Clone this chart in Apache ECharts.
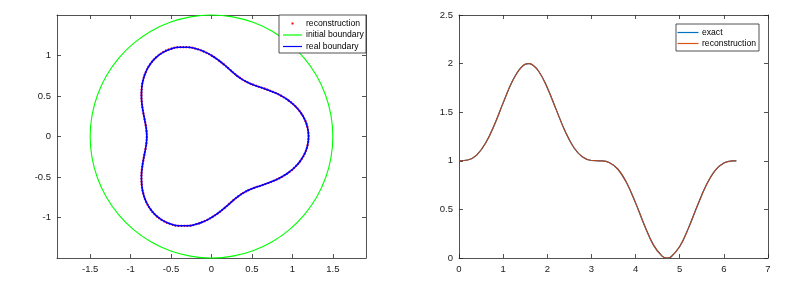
<!DOCTYPE html>
<html>
<head>
<meta charset="utf-8">
<script src="https://cdn.jsdelivr.net/npm/echarts@6/dist/echarts.min.js"></script>
<style>
html,body{margin:0;padding:0;background:#fff;}
#c{width:797px;height:291px;}
</style>
</head>
<body>
<div id="c"></div>
<script>
// ---------- Left panel data (boundary curves) ----------
const boundaryX = [1.2, 1.1886, 1.1554, 1.1025, 1.0337, 0.9532, 0.866, 0.7768, 0.6894, 0.6071, 0.5315, 0.4628, 0.4, 0.341, 0.2828, 0.2222, 0.1563, 0.0827, 0, -0.0917, -0.191, -0.2954, -0.4012, -0.5042, -0.6, -0.6844, -0.7541, -0.8071, -0.8426, -0.8616, -0.866, -0.8594, -0.8457, -0.8293, -0.8142, -0.8037, -0.8,
  -0.8037, -0.8142, -0.8293, -0.8457, -0.8594, -0.866, -0.8616, -0.8426, -0.8071, -0.7541, -0.6844, -0.6, -0.5042, -0.4012, -0.2954, -0.191, -0.0917, 0, 0.0827, 0.1563, 0.2222, 0.2828, 0.341, 0.4, 0.4628, 0.5315, 0.6071, 0.6894, 0.7768, 0.866, 0.9532, 1.0337, 1.1025, 1.1554, 1.1886, 1.2];
const boundaryY = [0, 0.104, 0.2037, 0.2954, 0.3762, 0.4445, 0.5, 0.5439, 0.5785, 0.6071, 0.6333, 0.6609, 0.6928, 0.7312, 0.7769, 0.8293, 0.8863, 0.9446, 1, 1.0478, 1.0833, 1.1025, 1.1025, 1.0814, 1.0392, 0.9775, 0.8987, 0.8071, 0.7071, 0.6033, 0.5, 0.4007, 0.3078, 0.2222, 0.1435, 0.0704, 0,
  -0.0704, -0.1435, -0.2222, -0.3078, -0.4007, -0.5, -0.6033, -0.7071, -0.8071, -0.8987, -0.9775, -1.0392, -1.0814, -1.1025, -1.1025, -1.0833, -1.0478, -1, -0.9446, -0.8863, -0.8293, -0.7769, -0.7312, -0.6928, -0.6609, -0.6333, -0.6071, -0.5785, -0.5439, -0.5, -0.4445, -0.3762, -0.2954, -0.2037, -0.104, 0];
const reconX = boundaryX.slice();
const reconY = boundaryY.slice();
const circleX = [1.5, 1.4772, 1.4095, 1.299, 1.1491, 0.9642, 0.75, 0.513, 0.2605, 0, -0.2605, -0.513, -0.75, -0.9642, -1.1491, -1.299, -1.4095, -1.4772, -1.5, -1.4772, -1.4095, -1.299, -1.1491, -0.9642, -0.75, -0.513, -0.2605, 0, 0.2605, 0.513, 0.75, 0.9642, 1.1491, 1.299, 1.4095, 1.4772, 1.5];
const circleY = [0, 0.2605, 0.513, 0.75, 0.9642, 1.1491, 1.299, 1.4095, 1.4772, 1.5, 1.4772, 1.4095, 1.299, 1.1491, 0.9642, 0.75, 0.513, 0.2605, 0, -0.2605, -0.513, -0.75, -0.9642, -1.1491, -1.299, -1.4095, -1.4772, -1.5, -1.4772, -1.4095, -1.299, -1.1491, -0.9642, -0.75, -0.513, -0.2605, 0];
const leftXTicks = [-1.5, -1, -0.5, 0, 0.5, 1, 1.5];
const leftYTicks = [-1, -0.5, 0, 0.5, 1];

// ---------- Right panel data ----------
const tValues = [0, 0.2, 0.4, 0.6, 0.8, 1.0, 1.2, 1.4, 1.57, 1.6, 1.8, 2.0, 2.2, 2.4, 2.6, 2.8, 3.0, 3.2, 3.4, 3.6, 3.8, 4.0, 4.2, 4.4, 4.6, 4.71, 4.8, 5.0, 5.2, 5.4, 5.6, 5.8, 6.0, 6.2, 6.283];
const exactValues = [1, 1.008, 1.059, 1.18, 1.369, 1.596, 1.81, 1.957, 2.0, 1.999, 1.924, 1.752, 1.529, 1.308, 1.137, 1.038, 1.003, 1.0, 0.983, 0.913, 0.771, 0.567, 0.338, 0.138, 0.019, 0.0, 0.011, 0.118, 0.31, 0.538, 0.748, 0.9, 0.978, 0.999, 1.0];
const reconValues = exactValues.slice();
const rightXTicks = [0, 1, 2, 3, 4, 5, 6, 7];
const rightYTicks = [0, 0.5, 1, 1.5, 2, 2.5];

const zip = (a, b) => a.map((v, i) => [v, b[i]]);

const FONT = 'Liberation Sans';
const AX = '#262626';
const axisCommon = {
  axisLine: { show: true, onZero: false, lineStyle: { color: AX, width: 0.8 } },
  axisTick: { show: true, inside: true, length: 4, lineStyle: { color: AX, width: 0.8 } },
  splitLine: { show: false },
};

const chart = echarts.init(document.getElementById('c'), null, { renderer: 'canvas' });

const lg = { left: 57, top: 15, width: 309, height: 243 };
const rg = { left: 459, top: 15, width: 309, height: 243 };

function ax(gi, min, max, ticks, pos, showLabel) {
  return Object.assign({}, axisCommon, {
    type: 'value', gridIndex: gi, min: min, max: max, position: pos,
    axisTick: Object.assign({}, axisCommon.axisTick, { customValues: ticks }),
    axisLabel: { show: showLabel, customValues: ticks, color: '#1a1a1a', fontFamily: FONT, fontSize: 9.5, margin: 6 },
  });
}

const option = {
  backgroundColor: '#fff',
  animation: false,
  grid: [lg, rg],
  xAxis: [
    ax(0, -1.91, 1.91, leftXTicks, 'bottom', true),
    ax(0, -1.91, 1.91, leftXTicks, 'top', false),
    ax(1, 0, 7, rightXTicks, 'bottom', true),
    ax(1, 0, 7, rightXTicks, 'top', false),
  ],
  yAxis: [
    ax(0, -1.5, 1.5, leftYTicks, 'left', true),
    ax(0, -1.5, 1.5, leftYTicks, 'right', false),
    ax(1, 0, 2.5, rightYTicks, 'left', true),
    ax(1, 0, 2.5, rightYTicks, 'right', false),
  ],
  series: [
    { name: 'initial boundary', type: 'line', xAxisIndex: 0, yAxisIndex: 0, data: zip(circleX, circleY),
      smooth: 0.5, showSymbol: false, symbol: 'none', clip: false, lineStyle: { color: '#00ff00', width: 1.1 } },
    { name: 'reconstruction', type: 'line', xAxisIndex: 0, yAxisIndex: 0, data: zip(reconX, reconY),
      smooth: 0.5, showSymbol: false, symbol: 'none', lineStyle: { color: '#ff0000', width: 2.2, type: [1.5, 1.5] } },
    { name: 'real boundary', type: 'line', xAxisIndex: 0, yAxisIndex: 0, data: zip(boundaryX, boundaryY),
      smooth: 0.5, showSymbol: false, symbol: 'none', lineStyle: { color: '#0000ff', width: 1.6 } },
    { name: 'exact', type: 'line', xAxisIndex: 2, yAxisIndex: 2, data: zip(tValues, exactValues),
      smooth: 0.4, showSymbol: false, symbol: 'none', lineStyle: { color: '#0072BD', width: 1.2 } },
    { name: 'reconstruction ', type: 'line', xAxisIndex: 2, yAxisIndex: 2, data: zip(tValues, reconValues),
      smooth: 0.4, showSymbol: false, symbol: 'none', lineStyle: { color: '#b4461e', width: 1.2 } },
  ],
  graphic: [
    // left legend
    { type: 'rect', shape: { x: 279, y: 15, width: 87, height: 38 }, style: { fill: '#fff', stroke: AX, lineWidth: 0.8 }, z: 100 },
    { type: 'rect', shape: { x: 291.5, y: 22.5, width: 2, height: 2 }, style: { fill: '#ff0000' }, z: 101 },
    { type: 'text', x: 306, y: 23.5, style: { text: 'reconstruction', font: '8.6px "Liberation Sans"', fill: '#000', verticalAlign: 'middle' }, z: 101 },
    { type: 'line', shape: { x1: 283, y1: 35, x2: 302, y2: 35 }, style: { stroke: '#00ff00', lineWidth: 1.2 }, z: 101 },
    { type: 'text', x: 306, y: 35, style: { text: 'initial boundary', font: '8.6px "Liberation Sans"', fill: '#000', verticalAlign: 'middle' }, z: 101 },
    { type: 'line', shape: { x1: 283, y1: 46.5, x2: 302, y2: 46.5 }, style: { stroke: '#0000ff', lineWidth: 1.2 }, z: 101 },
    { type: 'text', x: 306, y: 46.5, style: { text: 'real boundary', font: '8.6px "Liberation Sans"', fill: '#000', verticalAlign: 'middle' }, z: 101 },
    // right legend
    { type: 'rect', shape: { x: 676, y: 24, width: 83, height: 27 }, style: { fill: '#fff', stroke: AX, lineWidth: 0.8 }, z: 100 },
    { type: 'line', shape: { x1: 677.5, y1: 32.5, x2: 698.5, y2: 32.5 }, style: { stroke: '#0072BD', lineWidth: 1.2 }, z: 101 },
    { type: 'text', x: 702, y: 32.5, style: { text: 'exact', font: '8.6px "Liberation Sans"', fill: '#000', verticalAlign: 'middle' }, z: 101 },
    { type: 'line', shape: { x1: 677.5, y1: 43.5, x2: 698.5, y2: 43.5 }, style: { stroke: '#D95319', lineWidth: 1.2 }, z: 101 },
    { type: 'text', x: 702, y: 43.5, style: { text: 'reconstruction', font: '8.6px "Liberation Sans"', fill: '#000', verticalAlign: 'middle' }, z: 101 },
  ],
};
chart.setOption(option);
</script>
</body>
</html>
